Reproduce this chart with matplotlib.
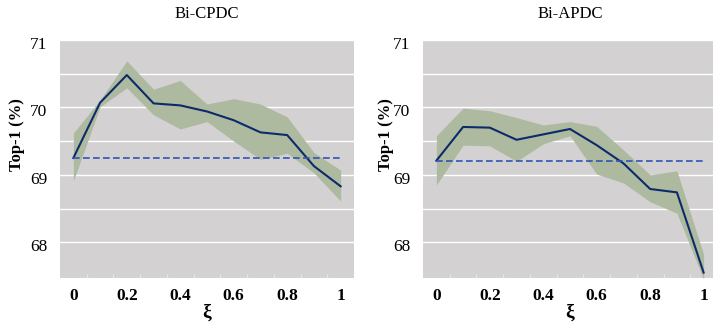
import numpy as np
import matplotlib
matplotlib.use('Agg')
import matplotlib.pyplot as plt
import matplotlib.transforms as mtransforms

xi = [0, 0.1, 0.2, 0.3, 0.4, 0.5, 0.6, 0.7, 0.8, 0.9, 1.0]

cpdc_mean = [69.25, 70.07, 70.48, 70.06, 70.03, 69.94, 69.81, 69.63, 69.59, 69.13, 68.83]
cpdc_upper = [69.62, 70.11, 70.69, 70.27, 70.40, 70.05, 70.13, 70.05, 69.86, 69.33, 69.07]
cpdc_lower = [68.91, 70.01, 70.29, 69.89, 69.68, 69.79, 69.50, 69.23, 69.32, 69.03, 68.61]
cpdc_base = 69.25

apdc_mean = [69.21, 69.71, 69.70, 69.52, 69.60, 69.68, 69.44, 69.17, 68.79, 68.74, 67.55]
apdc_upper = [69.58, 69.99, 69.95, 69.85, 69.74, 69.79, 69.72, 69.37, 69.00, 69.06, 67.82]
apdc_lower = [68.85, 69.44, 69.43, 69.20, 69.46, 69.58, 69.01, 68.88, 68.60, 68.43, 67.45]
apdc_base = 69.21

titles = ['Bi-CPDC', 'Bi-APDC']
xtick_vals = [0, 0.2, 0.4, 0.6, 0.8, 1]
xtick_labels = ['0', '0.2', '0.4', '0.6', '0.8', '1']
ytick_vals = [68, 68.5, 69, 69.5, 70, 70.5, 71]
ytick_labels = ['68', '', '69', '', '70', '', '71']

plt.rcParams['font.family'] = ['Liberation Serif', 'DejaVu Serif']

W, H = 713, 330
fig = plt.figure(figsize=(W / 100, H / 100), dpi=100)

panels = [
    (cpdc_mean, cpdc_upper, cpdc_lower, cpdc_base, 60, 354, -0.12),
    (apdc_mean, apdc_upper, apdc_lower, apdc_base, 423, 717, -0.10),
]

# y tick labels sit a few pixels below their grid lines in the original
shift = mtransforms.ScaledTranslation(0, -3 / 100, fig.dpi_scale_trans)

for (mean, upper, lower, base, left, right, lx), title in zip(panels, titles):
    ax = fig.add_axes([left / W, 1 - 278 / H, (right - left) / W, (278 - 40) / H])
    ax.set_facecolor('#d3d1d2')
    ax.fill_between(xi, lower, upper, color='#aebaa0', lw=0, zorder=2)
    ax.plot(xi, mean, color='#0d2a6a', lw=1.5, zorder=3)
    ax.axhline(base, xmin=0.045, xmax=0.955, color='#2f55b5', lw=1.2,
               ls=(0, (4, 2)), zorder=3)
    ax.set_xlim(-0.05, 1.05)
    ax.set_ylim(67.47, 71)
    ax.set_yticks(ytick_vals)
    ax.set_yticklabels(ytick_labels, fontsize=12.5)
    ax.set_xticks(xtick_vals)
    ax.set_xticklabels(xtick_labels, fontsize=12.5, fontweight='bold')
    ax.set_xticks(np.arange(0.05, 1.0, 0.1), minor=True)
    ax.tick_params(axis='y', which='major', length=0, pad=9)
    ax.tick_params(axis='x', which='major', length=0, pad=7)
    ax.tick_params(axis='x', which='minor', direction='in', length=3,
                   color='#e8e8e8', width=0.8)
    for tick in ax.yaxis.get_major_ticks():
        tick.label1.set_transform(tick.label1.get_transform() + shift)
    ax.grid(axis='y', color='white', lw=1, zorder=1)
    ax.set_axisbelow(True)
    for s in ax.spines.values():
        s.set_visible(False)
    ax.set_ylabel('Top-1 (%)', fontsize=12, fontweight='bold')
    ax.yaxis.set_label_coords(lx, 0.603)
    ax.set_xlabel('\u03be', fontsize=14, fontweight='bold', labelpad=0)
    ax.set_title(title, fontsize=12, pad=16)

fig.savefig('out.png', dpi=100)
